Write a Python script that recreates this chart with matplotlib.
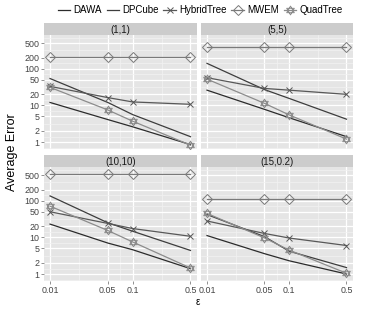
import numpy as np
import matplotlib
matplotlib.use("Agg")
import matplotlib.pyplot as plt
from matplotlib.path import Path
from matplotlib.lines import Line2D
from matplotlib.ticker import NullFormatter

plt.rcParams['font.family'] = ['Liberation Sans', 'DejaVu Sans']

# --- data ---
eps = [0.01, 0.05, 0.1, 0.5]
eps_labels = ["0.01", "0.05", "0.1", "0.5"]
y_breaks = [1, 2, 5, 10, 20, 50, 100, 200, 500]
facets = ["(1,1)", "(5,5)", "(10,10)", "(15,0.2)"]
methods = ["DAWA", "DPCube", "HybridTree", "MWEM", "QuadTree"]

# one row per facet, one value per epsilon
dawa = [[12, 4.1, 2.6, 0.85], [26, 7.8, 4.6, 1.4],
        [23, 7.0, 4.6, 1.4], [11.2, 3.6, 2.3, 1.0]]
dpcube = [[54, 12, 5.6, 1.4], [140, 27, 15.5, 4.2],
          [135, 25, 14.7, 4.4], [42, 10.5, 4.2, 1.5]]
hybridtree = [[33, 16.3, 12.4, 10.7], [57, 29, 26, 20],
              [50, 24, 17.4, 10.7], [28, 12.8, 9.6, 6.0]]
mwem = [[210, 210, 210, 210], [400, 400, 400, 400],
        [520, 520, 520, 520], [108, 108, 108, 108]]
quadtree = [[31, 7.5, 3.7, 0.82], [52, 11.4, 5.5, 1.2],
            [71, 15.4, 7.5, 1.46], [45, 9.7, 4.5, 1.05]]

series = [dawa, dpcube, hybridtree, mwem, quadtree]

# QuadTree marker: two overlapping open triangles
s = np.sqrt(3) / 2
star_verts = [(0, 1), (-s, -0.5), (s, -0.5), (0, 1),
              (0, -1), (-s, 0.5), (s, 0.5), (0, -1)]
star_codes = [Path.MOVETO, Path.LINETO, Path.LINETO, Path.CLOSEPOLY] * 2
star = Path(star_verts, star_codes)

colors = ["#2b2b2b", "#3d3d3d", "#585858", "#7a7a7a", "#8c8c8c"]
markers = [None, None, "x", "D", star]
msizes = [0, 0, 5, 5.5, 6.3]

W, H = 366, 314
fig = plt.figure(figsize=(W / 100, H / 100), dpi=100)


def box(x0, y0, x1, y1):
    return [x0 / W, 1 - y1 / H, (x1 - x0) / W, (y1 - y0) / H]


panels = [(44, 35, 197, 149), (201, 35, 353, 149),
          (44, 167, 197, 281), (201, 167, 353, 281)]

x_minor = [np.sqrt(a * b) for a, b in zip(eps[:-1], eps[1:])]
y_minor = [np.sqrt(a * b) for a, b in zip([0.5] + y_breaks, y_breaks + [1000])]

for i, (x0, y0, x1, y1) in enumerate(panels):
    ax = fig.add_axes(box(x0, y0, x1, y1))
    ax.set_facecolor("#e5e5e5")
    for sp in ax.spines.values():
        sp.set_visible(False)
    ax.set_xscale("log")
    ax.set_yscale("log")
    ax.set_xlim(0.00845, 0.6)
    ax.set_ylim(0.645, 832)
    ax.set_xticks(eps)
    ax.set_xticks(x_minor, minor=True)
    ax.set_yticks(y_breaks)
    ax.set_yticks(y_minor, minor=True)
    ax.xaxis.set_minor_formatter(NullFormatter())
    ax.yaxis.set_minor_formatter(NullFormatter())
    ax.grid(which="major", color="white", lw=0.9)
    ax.grid(which="minor", color="#f2f2f2", lw=0.5)
    ax.set_axisbelow(True)
    ax.tick_params(which="minor", length=0)
    ax.tick_params(which="major", length=2.3, width=0.6, color="#7f7f7f",
                   labelsize=6.4, labelcolor="#444444", pad=1)
    if i >= 2:
        ax.set_xticklabels(eps_labels)
    else:
        ax.tick_params(axis="x", which="major", length=0, labelbottom=False)
    if i % 2 == 0:
        ax.set_yticklabels([str(v) for v in y_breaks])
    else:
        ax.tick_params(axis="y", which="major", length=0, labelleft=False)

    for k, data in enumerate(series):
        ax.plot(eps, data[i], color=colors[k], lw=0.9,
                marker=markers[k], ms=msizes[k], mfc="none",
                mec=colors[k], mew=0.7)

    # strip
    sax = fig.add_axes(box(x0, y0 - 12, x1, y0))
    sax.set_facecolor("#cccccc")
    sax.set_xticks([])
    sax.set_yticks([])
    for sp in sax.spines.values():
        sp.set_visible(False)
    sax.text(0.5, 0.45, facets[i], ha="center", va="center",
             fontsize=7, color="#1a1a1a", transform=sax.transAxes)

fig.text(12 / W, 1 - 152 / H, "Average Error", rotation=90,
         ha="center", va="center", fontsize=9)
fig.text(198 / W, 1 - 302 / H, "ε", ha="center", va="center", fontsize=7)

handles = [Line2D([], [], color=colors[k], lw=0.9, marker=markers[k],
                  ms=msizes[k], mfc="none", mec=colors[k], mew=0.7)
           for k in range(len(methods))]
fig.legend(handles, methods, loc="center", bbox_to_anchor=(200 / W, 1 - 10 / H),
           ncol=5, frameon=False, fontsize=7, handlelength=1.3,
           handletextpad=0.3, columnspacing=0.5, borderpad=0)

fig.savefig("out.png", dpi=100)
